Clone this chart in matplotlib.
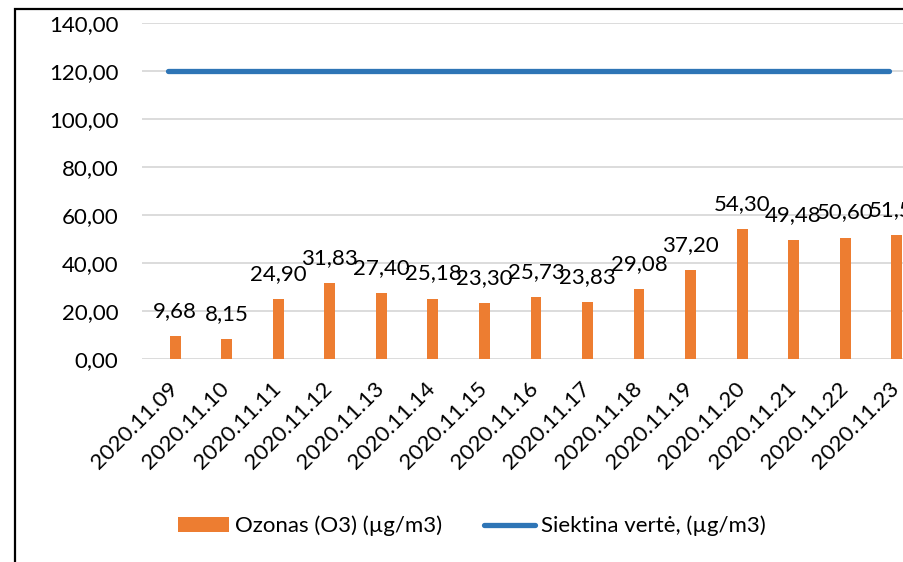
import matplotlib.pyplot as plt
from matplotlib.patches import Rectangle

plt.rcParams['font.family'] = ['Lato', 'DejaVu Sans']

DATES = ["2020.11.09", "2020.11.10", "2020.11.11", "2020.11.12", "2020.11.13",
         "2020.11.14", "2020.11.15", "2020.11.16", "2020.11.17", "2020.11.18",
         "2020.11.19", "2020.11.20", "2020.11.21", "2020.11.22", "2020.11.23"]
OZONE = [9.68, 8.15, 24.90, 31.83, 27.40, 25.18, 23.30, 25.73, 23.83, 29.08,
         37.20, 54.30, 49.48, 50.60, 51.53]
TARGET = [120.0] * 15
Y_TICKS = [0, 20, 40, 60, 80, 100, 120, 140]

ORANGE = "#ED7D31"
BLUE = "#2E75B6"
GRID = "#D9D9D9"
FS = 16


def fmt(v):
    return f"{v:.2f}".replace(".", ",")


W, H = 904, 562
fig = plt.figure(figsize=(W / 100, H / 100), dpi=100)
# plot area in pixels: left 142, right ~915 (runs past the crop), y 23..359
ax = fig.add_axes([142 / W, 1 - 359 / H, (915 - 142) / W, (359 - 23) / H])

x = list(range(len(DATES)))
bar_x = [i + 0.145 for i in x]
bars = ax.bar(bar_x, OZONE, width=0.21, color=ORANGE, zorder=3,
              label="Ozonas (O3) (µg/m3)")
line, = ax.plot(x, TARGET, color=BLUE, lw=3.8, solid_capstyle="round",
                zorder=4, label="Siektina vertė, (µg/m3)")

for bx, v in zip(bar_x, OZONE):
    ax.annotate(fmt(v), (bx, v), xytext=(0, 18), textcoords="offset points",
                ha="center", va="center", fontsize=FS, color="#000000",
                annotation_clip=False, zorder=5)

ax.set_xlim(-0.5, len(DATES) - 0.5)
ax.set_ylim(0, 140)
ax.set_yticks(Y_TICKS)
ax.set_yticklabels([fmt(t) for t in Y_TICKS], fontsize=FS)
ax.set_xticks(x)
ax.set_xticklabels(DATES, fontsize=FS, rotation=45, ha="right",
                   rotation_mode="anchor")
ax.tick_params(axis="y", length=0, pad=17)
ax.tick_params(axis="x", length=0, pad=14)
ax.grid(axis="y", color=GRID, lw=1.3, zorder=0)
for s in ax.spines.values():
    s.set_visible(False)

fig.legend([bars, line], [bars.get_label(), line.get_label()],
           loc="center left", bbox_to_anchor=(178 / W, 1 - 526 / H),
           ncol=2, frameon=False, fontsize=FS, borderpad=0, borderaxespad=0,
           handlelength=2.3, handleheight=0.65, handletextpad=0.25,
           columnspacing=1.9)

# chart frame (cropped at right and bottom)
fig.patches.append(Rectangle((15.5 / W, -0.1), 1.2, 1 - 9 / H + 0.1,
                             transform=fig.transFigure, fill=False,
                             edgecolor="black", lw=1.6))

fig.savefig("out.png", dpi=100)
